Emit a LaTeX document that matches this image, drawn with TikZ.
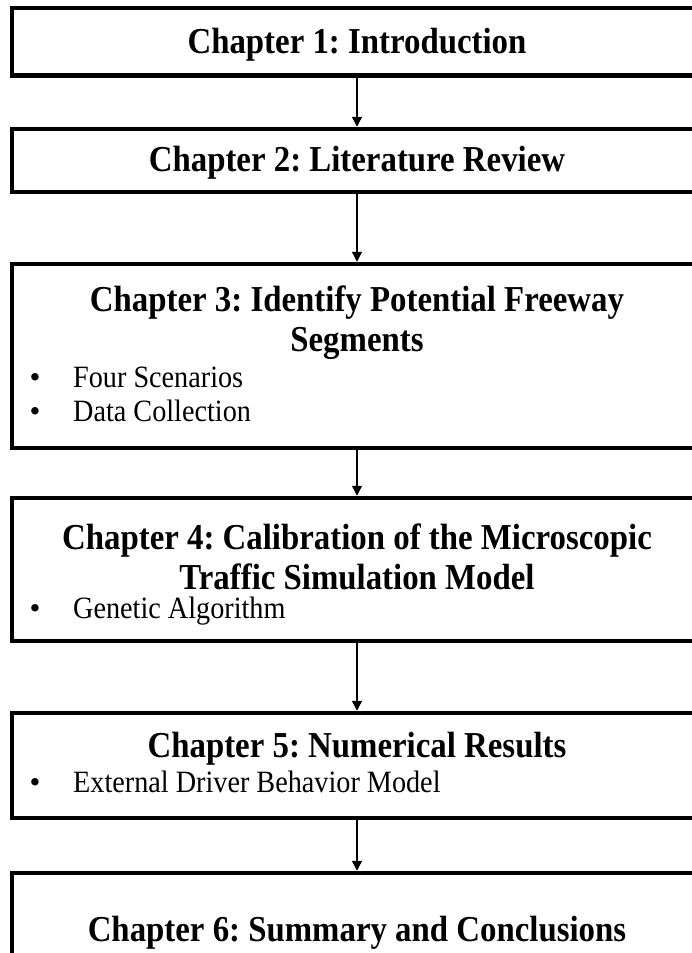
\documentclass[tikz,border=0pt]{standalone}
\usepackage{fontspec}
\setmainfont{Liberation Serif}
\newfontfamily\narrowserif[FakeStretch=0.9]{Liberation Serif}
\newfontfamily\narrowitem[FakeStretch=0.91]{Liberation Serif}
\usetikzlibrary{arrows.meta,positioning}
\frenchspacing

\tikzset{
  chapbox/.style={draw,rectangle,line width=4.5pt,minimum width=690pt,inner sep=0pt},
  chaptitle/.style={font=\fontsize{36.5}{40}\narrowserif\bfseries,anchor=base,inner sep=0pt},
  chapitem/.style={font=\fontsize{31}{34}\narrowitem,anchor=base west,inner sep=0pt},
  chapdot/.style={font=\fontsize{31}{34}\selectfont,anchor=base,inner sep=0pt},
  flow/.style={-{Triangle[width=10pt,length=10pt]},line width=1.3pt},
}

\begin{document}
\begin{tikzpicture}[x=1pt,y=-1pt]
	\useasboundingbox (0,0) rectangle (692,953);
	\clip (0,0) rectangle (692,953);
	% chapter boxes
	\node[chapbox,minimum height=67.5pt]	(c1)	at (357,41.75)	{};
	\node[chapbox,minimum height=63pt]		(c2)	at (357,160.5)	{};
	\node[chapbox,minimum height=184pt]		(c3)	at (357,356)	{};
	\node[chapbox,minimum height=143pt]		(c4)	at (357,569.5)	{};
	\node[chapbox,minimum height=105pt]		(c5)	at (357,765.5)	{};
	\node[chapbox,minimum height=160pt]		(c6)	at (357,953)	{};
	% titles
	\node[chaptitle]	(t1)	at (357,53)		{Chapter 1: Introduction};
	\node[chaptitle]	(t2)	at (357,171)	{Chapter 2: Literature Review};
	\node[chaptitle]	(t3)	at (357,311)	{Chapter 3: Identify Potential Freeway};
	\node[chaptitle]	(t3b)	at (357,351)	{Segments};
	\node[chaptitle]	(t4)	at (357,549)	{Chapter 4: Calibration of the Microscopic};
	\node[chaptitle]	(t4b)	at (357,589)	{Traffic Simulation Model};
	\node[chaptitle]	(t5)	at (357,757)	{Chapter 5: Numerical Results};
	\node[chaptitle]	(t6)	at (357,941)	{Chapter 6: Summary and Conclusions};
	% bullet points
	\foreach \name/\y/\txt in {i3a/387/Four Scenarios,i3b/421/Data Collection,
			i4a/618/Genetic Algorithm,i5a/792/External Driver Behavior Model}{
		\node[chapdot]	(b\name)	at (35,\y)	{\textbullet};
		\node[chapitem]	(\name)		at (73,\y)	{\txt};
	}
	% flow
	\draw[flow]	(c1) -- (c2);
	\draw[flow]	(c2) -- (c3);
	\draw[flow]	(c3) -- (c4);
	\draw[flow]	(c4) -- (c5);
	\draw[flow]	(c5) -- (c6);
\end{tikzpicture}
\end{document}
